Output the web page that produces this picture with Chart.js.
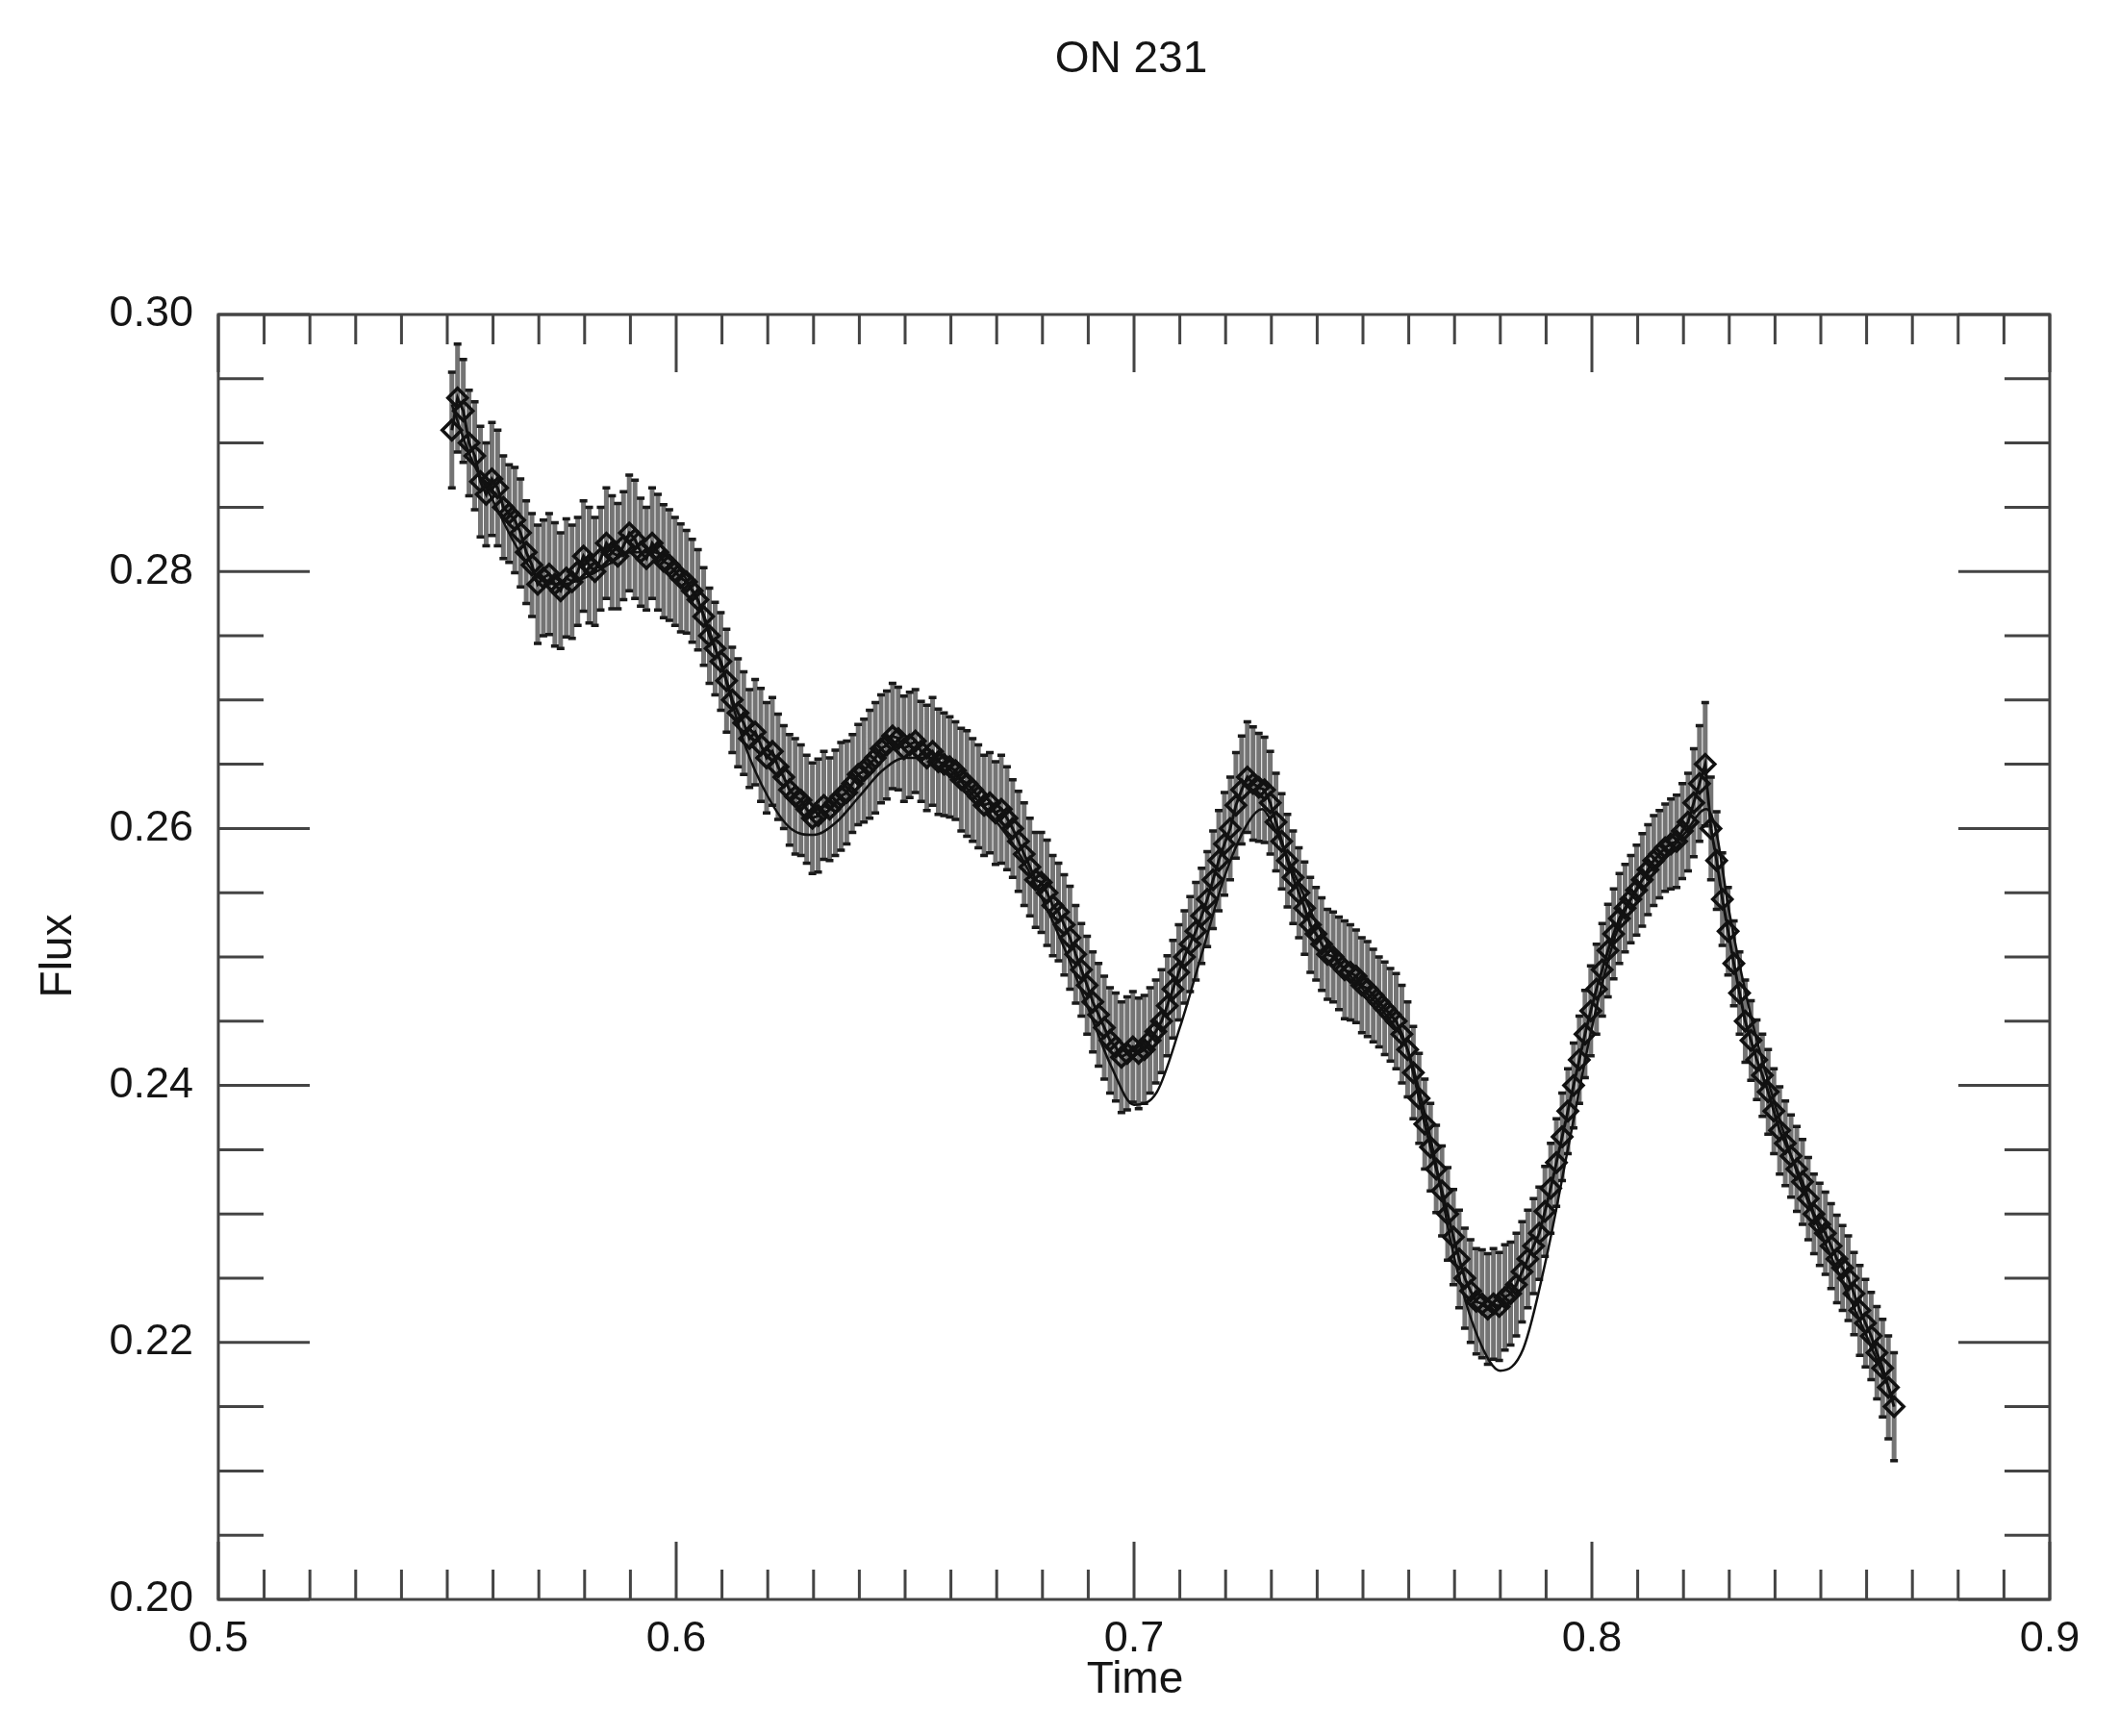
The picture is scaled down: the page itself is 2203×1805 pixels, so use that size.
<!DOCTYPE html>
<html>
<head>
<meta charset="utf-8">
<title>ON 231</title>
<script src="https://cdn.jsdelivr.net/npm/chart.js@4/dist/chart.umd.min.js"></script>
<style>
  html, body { margin: 0; padding: 0; background: #fff; }
  #wrap { width: 2203px; height: 1805px; }
</style>
</head>
<body>
<div id="wrap"><canvas id="lightCurve" width="2203" height="1805"></canvas></div>
<script>
// ON 231 light curve - observed flux with errors plus model curve

const times = [
  0.551, 0.55225, 0.5535, 0.55475, 0.556, 0.55725, 0.5585, 0.55975, 0.561, 0.56225,
  0.5635, 0.56475, 0.566, 0.56725, 0.5685, 0.56975, 0.571, 0.57225, 0.5735, 0.57475,
  0.576, 0.57725, 0.5785, 0.57975, 0.581, 0.58225, 0.5835, 0.58475, 0.586, 0.58725,
  0.5885, 0.58975, 0.591, 0.59225, 0.5935, 0.59475, 0.596, 0.59725, 0.5985, 0.59975,
  0.601, 0.60225, 0.6035, 0.60475, 0.606, 0.60725, 0.6085, 0.60975, 0.611, 0.61225,
  0.6135, 0.61475, 0.616, 0.61725, 0.6185, 0.61975, 0.621, 0.62225, 0.6235, 0.62475,
  0.626, 0.62725, 0.6285, 0.62975, 0.631, 0.63225, 0.6335, 0.63475, 0.636, 0.63725,
  0.6385, 0.63975, 0.641, 0.64225, 0.6435, 0.64475, 0.646, 0.64725, 0.6485, 0.64975,
  0.651, 0.65225, 0.6535, 0.65475, 0.656, 0.65725, 0.6585, 0.65975, 0.661, 0.66225,
  0.6635, 0.66475, 0.666, 0.66725, 0.6685, 0.66975, 0.671, 0.67225, 0.6735, 0.67475,
  0.676, 0.67725, 0.6785, 0.67975, 0.681, 0.68225, 0.6835, 0.68475, 0.686, 0.68725,
  0.6885, 0.68975, 0.691, 0.69225, 0.6935, 0.69475, 0.696, 0.69725, 0.6985, 0.69975,
  0.701, 0.70225, 0.7035, 0.70475, 0.706, 0.70725, 0.7085, 0.70975, 0.711, 0.71225,
  0.7135, 0.71475, 0.716, 0.71725, 0.7185, 0.71975, 0.721, 0.72225, 0.7235, 0.72475,
  0.726, 0.72725, 0.7285, 0.72975, 0.731, 0.73225, 0.7335, 0.73475, 0.736, 0.73725,
  0.7385, 0.73975, 0.741, 0.74225, 0.7435, 0.74475, 0.746, 0.74725, 0.7485, 0.74975,
  0.751, 0.75225, 0.7535, 0.75475, 0.756, 0.75725, 0.7585, 0.75975, 0.761, 0.76225,
  0.7635, 0.76475, 0.766, 0.76725, 0.7685, 0.76975, 0.771, 0.77225, 0.7735, 0.77475,
  0.776, 0.77725, 0.7785, 0.77975, 0.781, 0.78225, 0.7835, 0.78475, 0.786, 0.78725,
  0.7885, 0.78975, 0.791, 0.79225, 0.7935, 0.79475, 0.796, 0.79725, 0.7985, 0.79975,
  0.801, 0.80225, 0.8035, 0.80475, 0.806, 0.80725, 0.8085, 0.80975, 0.811, 0.81225,
  0.8135, 0.81475, 0.816, 0.81725, 0.8185, 0.81975, 0.821, 0.82225, 0.8235, 0.82475,
  0.826, 0.82725, 0.8285, 0.82975, 0.831, 0.83225, 0.8335, 0.83475, 0.836, 0.83725,
  0.8385, 0.83975, 0.841, 0.84225, 0.8435, 0.84475, 0.846, 0.84725, 0.8485, 0.84975,
  0.851, 0.85225, 0.8535, 0.85475, 0.856, 0.85725, 0.8585, 0.85975, 0.861, 0.86225,
  0.8635, 0.86475, 0.866
];

const flux = [
  0.2910, 0.2935, 0.2925, 0.2900, 0.2890, 0.2870, 0.2860, 0.2872, 0.2865, 0.2850,
  0.2845, 0.2840, 0.2830, 0.2815, 0.2805, 0.2790, 0.2795, 0.2798, 0.2790, 0.2785,
  0.2795, 0.2792, 0.2800, 0.2812, 0.2805, 0.2800, 0.2810, 0.2822, 0.2815, 0.2812,
  0.2820, 0.2830, 0.2825, 0.2815, 0.2810, 0.2822, 0.2815, 0.2808, 0.2805, 0.2800,
  0.2795, 0.2792, 0.2785, 0.2778, 0.2765, 0.2750, 0.2740, 0.2730, 0.2715, 0.2700,
  0.2690, 0.2682, 0.2670, 0.2675, 0.2665, 0.2655, 0.2660, 0.2648, 0.2640, 0.2630,
  0.2625, 0.2622, 0.2615, 0.2608, 0.2610, 0.2618, 0.2615, 0.2620, 0.2625, 0.2628,
  0.2635, 0.2642, 0.2645, 0.2650, 0.2655, 0.2662, 0.2665, 0.2672, 0.2670, 0.2662,
  0.2665, 0.2668, 0.2660, 0.2655, 0.2660, 0.2652, 0.2650, 0.2648, 0.2645, 0.2638,
  0.2635, 0.2630, 0.2625, 0.2618, 0.2620, 0.2612, 0.2615, 0.2608, 0.2600, 0.2590,
  0.2580, 0.2570, 0.2560, 0.2558, 0.2550, 0.2540, 0.2535, 0.2525, 0.2515, 0.2502,
  0.2490, 0.2478, 0.2465, 0.2455, 0.2445, 0.2435, 0.2430, 0.2422, 0.2425, 0.2430,
  0.2425, 0.2428, 0.2435, 0.2442, 0.2450, 0.2462, 0.2475, 0.2488, 0.2500, 0.2510,
  0.2520, 0.2532, 0.2545, 0.2560, 0.2575, 0.2588, 0.2600, 0.2618, 0.2630, 0.2640,
  0.2635, 0.2632, 0.2630, 0.2620, 0.2605, 0.2590, 0.2575, 0.2562, 0.2550, 0.2538,
  0.2525, 0.2518, 0.2510, 0.2502, 0.2500, 0.2495, 0.2490, 0.2488, 0.2485, 0.2478,
  0.2475, 0.2470, 0.2465, 0.2460, 0.2455, 0.2450, 0.2440, 0.2428, 0.2410, 0.2390,
  0.2370, 0.2352, 0.2335, 0.2318, 0.2300, 0.2282, 0.2265, 0.2250, 0.2240, 0.2232,
  0.2230, 0.2226, 0.2230, 0.2228, 0.2235, 0.2238, 0.2245, 0.2255, 0.2265, 0.2275,
  0.2285, 0.2302, 0.2320, 0.2340, 0.2360, 0.2380, 0.2400, 0.2420, 0.2440, 0.2458,
  0.2475, 0.2490, 0.2505, 0.2518, 0.2530, 0.2538, 0.2545, 0.2552, 0.2560, 0.2568,
  0.2575, 0.2580, 0.2585, 0.2588, 0.2590, 0.2598, 0.2605, 0.2620, 0.2635, 0.2650,
  0.2600, 0.2575, 0.2545, 0.2520, 0.2495, 0.2472, 0.2450, 0.2435, 0.2420, 0.2408,
  0.2395, 0.2380, 0.2365, 0.2355, 0.2345, 0.2335, 0.2325, 0.2312, 0.2300, 0.2292,
  0.2285, 0.2275, 0.2265, 0.2258, 0.2250, 0.2238, 0.2225, 0.2215, 0.2205, 0.2192,
  0.2180, 0.2165, 0.2150
];

const fluxErr = [
  0.0045, 0.0042, 0.0040, 0.0041, 0.0042, 0.0043, 0.0040, 0.0044, 0.0045, 0.0040,
  0.0038, 0.0041, 0.0042, 0.0040, 0.0040, 0.0046, 0.0045, 0.0047, 0.0048, 0.0045,
  0.0046, 0.0044, 0.0042, 0.0043, 0.0045, 0.0042, 0.0040, 0.0043, 0.0044, 0.0041,
  0.0042, 0.0045, 0.0046, 0.0042, 0.0040, 0.0043, 0.0045, 0.0044, 0.0043, 0.0042,
  0.0042, 0.0040, 0.0040, 0.0039, 0.0038, 0.0037, 0.0036, 0.0038, 0.0040, 0.0041,
  0.0042, 0.0040, 0.0038, 0.0041, 0.0044, 0.0043, 0.0042, 0.0041, 0.0040, 0.0043,
  0.0045, 0.0043, 0.0042, 0.0043, 0.0044, 0.0042, 0.0040, 0.0041, 0.0042, 0.0040,
  0.0038, 0.0039, 0.0040, 0.0042, 0.0043, 0.0042, 0.0042, 0.0041, 0.0040, 0.0041,
  0.0041, 0.0040, 0.0039, 0.0041, 0.0042, 0.0041, 0.0040, 0.0039, 0.0038, 0.0040,
  0.0041, 0.0040, 0.0040, 0.0039, 0.0039, 0.0040, 0.0042, 0.0040, 0.0038, 0.0039,
  0.0040, 0.0038, 0.0037, 0.0039, 0.0041, 0.0039, 0.0038, 0.0039, 0.0040, 0.0038,
  0.0036, 0.0038, 0.0039, 0.0040, 0.0040, 0.0041, 0.0042, 0.0043, 0.0044, 0.0043,
  0.0043, 0.0042, 0.0041, 0.0040, 0.0040, 0.0039, 0.0038, 0.0037, 0.0036, 0.0037,
  0.0038, 0.0037, 0.0037, 0.0038, 0.0039, 0.0040, 0.0040, 0.0041, 0.0042, 0.0043,
  0.0044, 0.0042, 0.0041, 0.0040, 0.0038, 0.0037, 0.0036, 0.0036, 0.0035, 0.0036,
  0.0037, 0.0036, 0.0036, 0.0035, 0.0035, 0.0036, 0.0038, 0.0037, 0.0036, 0.0037,
  0.0037, 0.0036, 0.0035, 0.0036, 0.0036, 0.0037, 0.0038, 0.0037, 0.0036, 0.0035,
  0.0035, 0.0034, 0.0034, 0.0035, 0.0036, 0.0037, 0.0038, 0.0039, 0.0040, 0.0041,
  0.0042, 0.0043, 0.0043, 0.0042, 0.0041, 0.0040, 0.0040, 0.0039, 0.0038, 0.0037,
  0.0036, 0.0035, 0.0035, 0.0034, 0.0034, 0.0033, 0.0033, 0.0034, 0.0034, 0.0035,
  0.0035, 0.0036, 0.0036, 0.0035, 0.0035, 0.0034, 0.0034, 0.0035, 0.0036, 0.0035,
  0.0035, 0.0034, 0.0034, 0.0035, 0.0036, 0.0037, 0.0038, 0.0042, 0.0045, 0.0048,
  0.0040, 0.0038, 0.0036, 0.0034, 0.0033, 0.0032, 0.0032, 0.0031, 0.0031, 0.0032,
  0.0033, 0.0033, 0.0034, 0.0033, 0.0032, 0.0033, 0.0033, 0.0032, 0.0031, 0.0032,
  0.0032, 0.0033, 0.0034, 0.0033, 0.0033, 0.0032, 0.0035, 0.0034, 0.0034, 0.0036,
  0.0038, 0.0040, 0.0042
];

// model curve
const modelTime = [
  0.551, 0.555, 0.56, 0.565, 0.57, 0.575, 0.58, 0.585, 0.59, 0.595,
  0.60, 0.605, 0.61, 0.615, 0.62, 0.625, 0.63, 0.635, 0.64, 0.645,
  0.65, 0.655, 0.66, 0.665, 0.67, 0.675, 0.68, 0.685, 0.69, 0.695,
  0.70, 0.705, 0.71, 0.715, 0.72, 0.725, 0.728, 0.73, 0.735, 0.74,
  0.745, 0.75, 0.755, 0.76, 0.765, 0.77, 0.775, 0.78, 0.785, 0.79,
  0.795, 0.80, 0.805, 0.81, 0.815, 0.82, 0.825, 0.827, 0.83, 0.835,
  0.84, 0.845, 0.85, 0.855, 0.86, 0.866
];
const modelFlux = [
  0.2930, 0.2890, 0.2855, 0.2820, 0.2795, 0.2790, 0.2795, 0.2805, 0.2815, 0.2815,
  0.2805, 0.2775, 0.2725, 0.2665, 0.2625, 0.2600, 0.2595, 0.2605, 0.2625, 0.2645,
  0.2655, 0.2655, 0.2645, 0.2625, 0.2605, 0.2580, 0.2545, 0.2505, 0.2460, 0.2415,
  0.2385, 0.2395, 0.2445, 0.2505, 0.2565, 0.2605, 0.2615, 0.2605, 0.2565, 0.2525,
  0.2495, 0.2475, 0.2455, 0.2425, 0.2355, 0.2265, 0.2205, 0.2178, 0.2195, 0.2265,
  0.2355, 0.2445, 0.2515, 0.2555, 0.2575, 0.2595, 0.2615, 0.2600, 0.2535, 0.2450,
  0.2385, 0.2330, 0.2285, 0.2245, 0.2205, 0.2155
];

const xTicks = [0.5, 0.6, 0.7, 0.8, 0.9];
const yTicks = [0.20, 0.22, 0.24, 0.26, 0.28, 0.30];

const FONT = '"Liberation Sans", Arial, Helvetica, sans-serif';
const INK = '#151515';

// error bars, drawn under the diamonds
const errorBars = {
  id: 'errorBars',
  beforeDatasetsDraw(chart) {
    const { ctx, chartArea: a, scales: { x, y } } = chart;
    ctx.save();
    ctx.beginPath();
    ctx.rect(a.left, a.top, a.width, a.height);
    ctx.clip();
    ctx.strokeStyle = '#747474';
    ctx.lineWidth = 5;
    ctx.beginPath();
    for (let i = 0; i < times.length; i++) {
      const px = x.getPixelForValue(times[i]);
      ctx.moveTo(px, y.getPixelForValue(flux[i] + fluxErr[i]));
      ctx.lineTo(px, y.getPixelForValue(flux[i] - fluxErr[i]));
    }
    ctx.stroke();
    ctx.strokeStyle = '#1a1a1a';
    ctx.lineWidth = 3.5;
    ctx.beginPath();
    for (let i = 0; i < times.length; i++) {
      const px = x.getPixelForValue(times[i]);
      const top = y.getPixelForValue(flux[i] + fluxErr[i]);
      const bot = y.getPixelForValue(flux[i] - fluxErr[i]);
      ctx.moveTo(px - 4, top); ctx.lineTo(px + 4, top);
      ctx.moveTo(px - 4, bot); ctx.lineTo(px + 4, bot);
    }
    ctx.stroke();
    ctx.restore();
  }
};

// IDL style box with inward major/minor ticks on all four sides
const frameTicks = {
  id: 'frameTicks',
  afterDatasetsDraw(chart) {
    const { ctx, chartArea: a, scales: { x, y } } = chart;
    ctx.save();
    ctx.strokeStyle = '#444';
    ctx.lineWidth = 3;
    ctx.strokeRect(a.left, a.top, a.width, a.height);

    const xMinor = (xTicks[1] - xTicks[0]) / 10;
    const yMinor = (yTicks[1] - yTicks[0]) / 4;
    ctx.beginPath();
    for (let i = 0; i <= Math.round((x.max - x.min) / xMinor); i++) {
      const px = x.getPixelForValue(x.min + i * xMinor);
      const len = i % 10 === 0 ? 60 : 31;
      ctx.moveTo(px, a.bottom); ctx.lineTo(px, a.bottom - len);
      ctx.moveTo(px, a.top); ctx.lineTo(px, a.top + len);
    }
    for (let i = 0; i <= Math.round((y.max - y.min) / yMinor); i++) {
      const py = y.getPixelForValue(y.min + i * yMinor);
      const len = i % 4 === 0 ? 95 : 47;
      ctx.moveTo(a.left, py); ctx.lineTo(a.left + len, py);
      ctx.moveTo(a.right, py); ctx.lineTo(a.right - len, py);
    }
    ctx.stroke();
    ctx.restore();
  }
};

const labels = {
  id: 'labels',
  afterDraw(chart) {
    const { ctx } = chart;
    ctx.save();
    ctx.fillStyle = INK;
    ctx.font = '46px ' + FONT;
    ctx.textAlign = 'center';
    ctx.textBaseline = 'middle';
    ctx.fillText('ON 231', 1176, 62);
    ctx.fillText('Time', 1180, 1747);
    ctx.translate(61, 994);
    ctx.rotate(-Math.PI / 2);
    ctx.fillText('Flux', 0, 0);
    ctx.restore();
  }
};

new Chart(document.getElementById('lightCurve'), {
  type: 'scatter',
  data: {
    datasets: [
      {
        label: 'Flux',
        data: times.map((t, i) => ({ x: t, y: flux[i] })),
        showLine: true,
        borderColor: '#111',
        borderWidth: 3,
        pointStyle: 'rectRot',
        pointRadius: 10,
        pointBorderWidth: 3.5,
        pointBorderColor: '#111',
        pointBackgroundColor: 'rgba(0,0,0,0)'
      },
      {
        label: 'Model',
        data: modelTime.map((t, i) => ({ x: t, y: modelFlux[i] })),
        showLine: true,
        borderColor: '#111',
        borderWidth: 2.5,
        pointRadius: 0,
        cubicInterpolationMode: 'monotone'
      }
    ]
  },
  options: {
    responsive: false,
    animation: false,
    layout: { padding: { top: 327, right: 72, left: 0, bottom: 0 } },
    plugins: {
      legend: { display: false },
      tooltip: { enabled: false },
      title: { display: false }
    },
    scales: {
      x: {
        type: 'linear',
        min: 0.5,
        max: 0.9,
        afterBuildTicks: s => { s.ticks = xTicks.map(v => ({ value: v })); },
        afterFit: s => { s.height = 142; },
        grid: { display: false },
        border: { display: false },
        ticks: {
          color: INK,
          padding: 7,
          maxRotation: 0,
          font: { family: FONT, size: 45 },
          callback: v => v.toFixed(1)
        }
      },
      y: {
        type: 'linear',
        min: 0.2,
        max: 0.3,
        afterBuildTicks: s => { s.ticks = yTicks.map(v => ({ value: v })); },
        afterFit: s => { s.width = 227; },
        grid: { display: false },
        border: { display: false },
        ticks: {
          color: INK,
          padding: 18,
          font: { family: FONT, size: 45 },
          callback: v => v.toFixed(2)
        }
      }
    }
  },
  plugins: [errorBars, frameTicks, labels]
});
</script>
</body>
</html>
